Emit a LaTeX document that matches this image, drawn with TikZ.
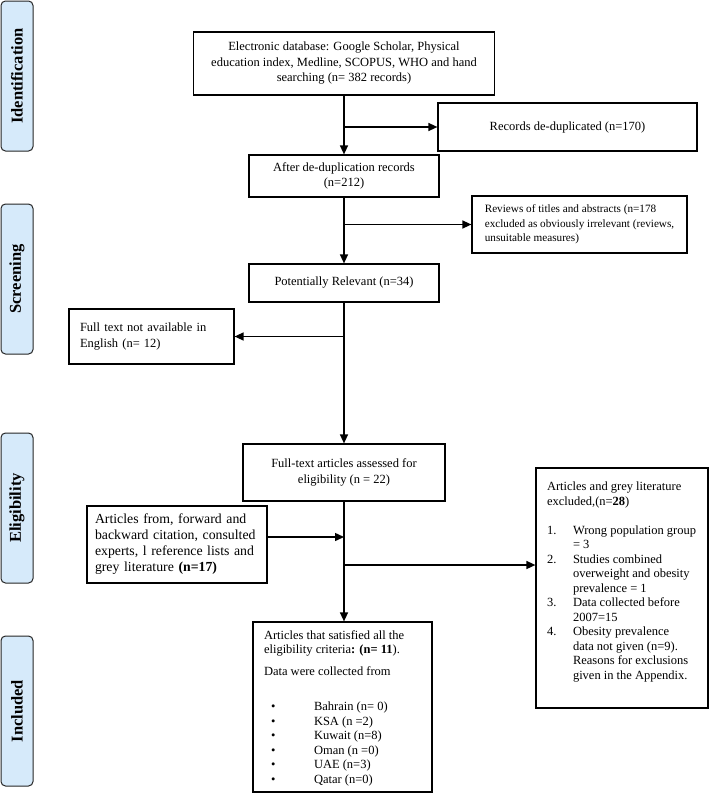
\documentclass[tikz,border=0pt]{standalone}
\usepackage{fontspec}
\setmainfont{Liberation Serif}
\usetikzlibrary{arrows.meta}
\definecolor{sidebg}{RGB}{214,234,250}
\begin{document}
\begin{tikzpicture}[x=1pt,y=-1pt,
  box/.style={draw=black, line width=1.2pt, inner sep=0pt, font=\fontsize{12.5}{15.5}\selectfont},
  side/.style={draw=black!85, line width=1pt, fill=sidebg, rounded corners=4.5pt, rotate=90,
     minimum width=150pt, minimum height=32pt, inner sep=0pt, font=\fontsize{16.5}{18}\selectfont\bfseries},
  arr/.style={line width=1.4pt, -{Triangle[length=9pt,width=8pt]}}]
\useasboundingbox (0,0) rectangle (709,795);

% phase bars
\node[side] (sid) at (17,76) {Identification};
\node[side] (sscr) at (17,279) {Screening};
\node[side] (selig) at (17,508) {Eligibility};
\node[side] (sinc) at (17,711) {Included};

% boxes
\node[box, minimum width=301pt, minimum height=63pt, align=center] (src) at (344,63.5)
  {Electronic database: Google Scholar, Physical\\education index, Medline, SCOPUS, WHO and hand\\searching (n= 382 records)};
\node[box, minimum width=259pt, minimum height=48pt] (dedup) at (567.5,127) {Records de-duplicated (n=170)};
\node[box, minimum width=190pt, minimum height=42pt, align=center] (after) at (344,176)
  {After de-duplication records\\(n=212)};
\node[box, minimum width=215pt, minimum height=57pt, align=left, font=\fontsize{11.2}{14.5}\selectfont] (rev) at (579.5,224.5)
  {Reviews of titles and abstracts (n=178\\excluded as obviously irrelevant (reviews,\\unsuitable measures)};
\node[box, minimum width=190pt, minimum height=38pt] (pr) at (344,283) {Potentially Relevant (n=34)};
\node[box, minimum width=165pt, minimum height=55pt, inner xsep=11pt, text width=143pt, align=left] (fna) at (151.5,336.5)
  {Full text not available in\\English (n= 12)};
\node[box, minimum width=202pt, minimum height=57pt, align=center] (ft) at (344,472.5)
  {Full-text articles assessed for\\eligibility (n = 22)};
\node[box, minimum width=180pt, minimum height=77pt, inner xsep=8pt, text width=164pt, align=left,
  font=\fontsize{13.8}{16}\selectfont] (art) at (177,544.5)
  {Articles from, forward and\\backward citation, consulted\\experts, l reference lists and\\grey literature \textbf{(n=17)}};
\node[box, inner xsep=11pt, inner ysep=14pt] (excl) at (622,588)
  {\parbox[c][212pt][t]{150pt}{\fontsize{12.5}{14.5}\selectfont
   Articles and grey literature\\
   excluded,(n=\textbf{28})\\[14.5pt]
   \makebox[26pt][l]{1.}Wrong population group\\
   \hspace*{26pt}= 3\\
   \makebox[26pt][l]{2.}Studies combined\\
   \hspace*{26pt}overweight and obesity\\
   \hspace*{26pt}prevalence = 1\\
   \makebox[26pt][l]{3.}Data collected before\\
   \hspace*{26pt}2007=15\\
   \makebox[26pt][l]{4.}Obesity prevalence\\
   \hspace*{26pt}data not given (n=9).\\
   \hspace*{26pt}Reasons for exclusions\\
   \hspace*{26pt}given in the Appendix.}};
\node[box, inner xsep=11pt, inner ysep=8.5pt] (incl) at (342.5,707)
  {\parbox[c][153pt][t]{157pt}{\fontsize{12.5}{14.5}\selectfont
   Articles that satisfied all the\\
   eligibility criteria\textbf{:} \textbf{(n= 11}).\\[7pt]
   Data were collected from\\[21pt]
   \hspace*{7pt}\makebox[43pt][l]{\textbullet}Bahrain (n= 0)\\
   \hspace*{7pt}\makebox[43pt][l]{\textbullet}KSA (n =2)\\
   \hspace*{7pt}\makebox[43pt][l]{\textbullet}Kuwait (n=8)\\
   \hspace*{7pt}\makebox[43pt][l]{\textbullet}Oman (n =0)\\
   \hspace*{7pt}\makebox[43pt][l]{\textbullet}UAE (n=3)\\
   \hspace*{7pt}\makebox[43pt][l]{\textbullet}Qatar (n=0)}};

% connectors
\coordinate (j1) at (344,537);
\coordinate (j2) at (344,565);
\draw[arr] (src.south) -- (after.north);
\draw[arr] (src.south |- dedup.west) -- (dedup.west);
\draw[arr] (after.south) -- (pr.north);
\draw[arr] (after.south |- rev.west) -- (rev.west);
\draw[arr] (pr.south) -- (ft.north);
\draw[arr] (pr.south |- fna.east) -- (fna.east);
\draw[arr] (ft.south) -- (ft.south |- incl.north);
\draw[arr] (art.east |- j1) -- (j1);
\draw[arr] (j2) -- (j2 -| excl.west);
\end{tikzpicture}
\end{document}
